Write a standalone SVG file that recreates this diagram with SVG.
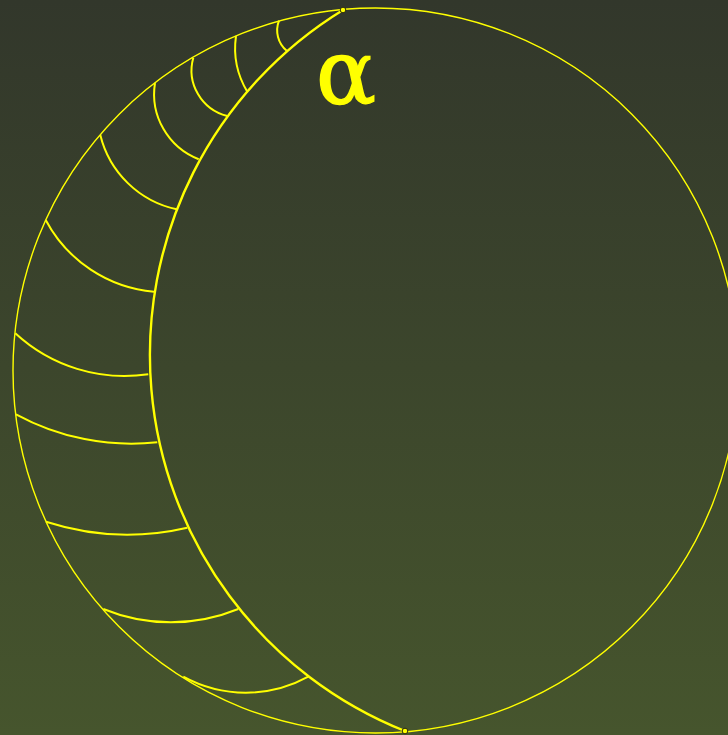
<svg xmlns="http://www.w3.org/2000/svg" width="728" height="735" viewBox="0 0 728 735">
<defs>
<linearGradient id="bg" x1="0" y1="0" x2="0" y2="1">
<stop offset="0" stop-color="#32372b"/>
<stop offset="1" stop-color="#46552d"/>
</linearGradient>
<style>
.bd{fill:none;stroke:#ffff00;stroke-width:1.4}
.geo{fill:none;stroke:#ffff00;stroke-width:2.4}
.h{fill:none;stroke:#ffff00;stroke-width:2}
.pt{fill:#ffff00;stroke:#2a2a10;stroke-width:1}
.lbl{font-family:"DejaVu Serif","Liberation Serif",serif;fill:#ffff00;stroke:#ffff00;stroke-width:1.4;font-size:89px}
</style>
</defs>
<rect width="728" height="735" fill="url(#bg)"/>
<g id="disk">
<circle class="bd" cx="375.5" cy="370.5" r="362.5"/>
</g>
<g id="connectors">
<path id="geodesic" class="geo" d="M343 10 A404.7 404.7 0 0 0 405 731"/>
<path class="h" d="M279 20.7 A26.5 26.5 0 0 0 286.7 50.7"/>
<path class="h" d="M236 36 A84.8 84.8 0 0 0 247.3 91.7"/>
<path class="h" d="M193.3 57.7 A47 47 0 0 0 227.3 116"/>
<path class="h" d="M155 83 A70 70 0 0 0 198.7 159.3"/>
<path class="h" d="M100.3 135 A100.5 100.5 0 0 0 176.7 209.3"/>
<path class="h" d="M45.7 220 A136 136 0 0 0 154 291.7"/>
<path class="h" d="M15.3 333.3 A161 161 0 0 0 148.3 374.3"/>
<path class="h" d="M16 414.3 A241 241 0 0 0 157.3 442.3"/>
<path class="h" d="M46 521.7 A265 265 0 0 0 187.3 527.7"/>
<path class="h" d="M103.3 609 A178 178 0 0 0 238.3 609"/>
<path class="h" d="M183.3 676.7 A130 130 0 0 0 308.3 676.7"/>
</g>
<g id="points">
<circle class="pt" cx="343" cy="10" r="2.8"/>
<circle class="pt" cx="405" cy="731" r="2.8"/>
</g>
<g id="label">
<text class="lbl" x="316" y="103">α</text>
</g>
</svg>
